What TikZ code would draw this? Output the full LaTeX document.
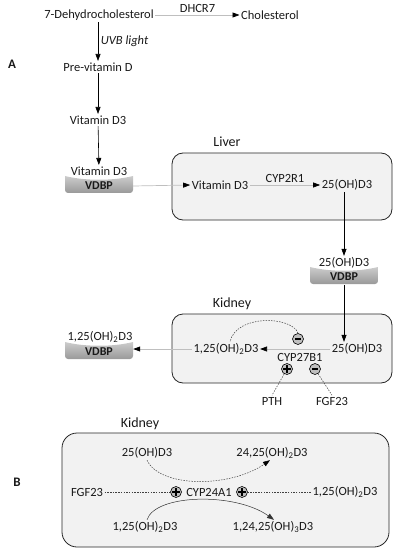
\documentclass[tikz,border=0pt]{standalone}
\usepackage{fontspec}
\setmainfont{Carlito}
\usetikzlibrary{arrows.meta}
\newcommand\vdbpshape[2]{%
  \shade[top color=gray!40, middle color=gray!60, bottom color=gray!80]
    ({#1-34},{#2-9}) .. controls ({#1-14},{#2-4}) and ({#1+14},{#2-4}) .. ({#1+34},{#2-9})
    [rounded corners=3pt] -- ({#1+34},{#2+8}) -- ({#1-34},{#2+8}) [sharp corners] -- cycle;}
\begin{document}
\begin{tikzpicture}[x=1pt,y=-1pt,
  every node/.style={font=\fontsize{12.5}{15}\selectfont, inner sep=1.5pt, text=black!90},
  blk/.style={draw=black, line width=0.6pt, -{Triangle[length=7pt,width=5pt]}},
  gry/.style={draw=gray!50, line width=0.7pt, -{Triangle[length=7pt,width=5pt,color=black]}},
  dsh/.style={draw=black!75, line width=0.5pt, dash pattern=on 1.5pt off 1.2pt},
  organ/.style={draw=black!85, line width=0.8pt, fill=black!5, rounded corners=11pt},
  organlabel/.style={font=\fontsize{14}{16}\selectfont},
  panel/.style={font=\bfseries\fontsize{13}{15}\selectfont},
  vdbptext/.style={font=\bfseries\fontsize{12}{14}\selectfont, minimum width=68pt, minimum height=16pt, inner sep=0pt},
  sgn/.style={circle, draw=black, line width=0.6pt, fill=gray!50, minimum size=11pt, inner sep=0pt},
  plusc/.style={sgn, path picture={
     \draw[line width=1.3pt] ([xshift=-4pt]path picture bounding box.center) -- ([xshift=4pt]path picture bounding box.center);
     \draw[line width=1.3pt] ([yshift=-4pt]path picture bounding box.center) -- ([yshift=4pt]path picture bounding box.center);}},
  minusc/.style={sgn, path picture={
     \draw[line width=1.3pt] ([xshift=-3pt]path picture bounding box.center) -- ([xshift=3pt]path picture bounding box.center);}}
]
\useasboundingbox (0,0) rectangle (403,553);

% ---------- Panel A top chain
\node[panel] (A) at (12,64) {A};
\node (dhc) at (99,15) {7-Dehydrocholesterol};
\node (chol) at (270,15) {Cholesterol};
\draw[gry] (dhc) -- (chol) node[midway, above, yshift=1pt] (dhcr) {DHCR7};
\node (prevd) at (98,67) {Pre-vitamin D};
\node (vd3) at (98,120) {Vitamin D3};
\draw[blk] (dhc.south -| prevd.north) -- (prevd.north) node[midway, right, xshift=1pt] (uvb) {\itshape UVB light};
\draw[blk] (prevd) -- (vd3);

% ---------- VDBP 1
\vdbpshape{99}{185}
\node (vd3b) at (99,171) {Vitamin D3};
\node[vdbptext] (vdbp1) at (99,186) {VDBP};
\draw[blk] (vd3) -- (vd3b);

% ---------- Liver
\node[organ, minimum width=220pt, minimum height=67pt] (liver) at (282,186.5) {};
\node[organlabel] (liverlbl) at (227,142) {Liver};
\node (lvd) at (220,185) {Vitamin D3};
\node (l25) at (347,185) {25(OH)D3};
\draw[gry] (vdbp1.east) -- (lvd.west);
\draw[gry] (lvd) -- (l25) node[midway, above, yshift=1pt] (cyp2r1) {CYP2R1};

% ---------- VDBP 2
\vdbpshape{344}{276}
\node (v2t) at (344,263) {25(OH)D3};
\node[vdbptext] (vdbp2) at (344,277) {VDBP};
\draw[blk] (l25.south -| v2t.north) -- (v2t.north);

% ---------- Kidney A
\node[organ, minimum width=220pt, minimum height=69pt] (kidA) at (282,348.5) {};
\node[organlabel] (kidAlbl) at (232,304) {Kidney};
\node (k25) at (357,349) {25(OH)D3};
\node (k125) at (226,349) {1,25(OH)\textsubscript{2}D3};
\node (cyp27) at (300,357) {CYP27B1};
\draw[blk] (vdbp2.south) -- (vdbp2.south |- k25.north);
\draw[gry] (k25.west) -- (k125.east);
\node[minusc] (m1) at (298,339) {};
\node[plusc] (p1) at (287,369) {};
\node[minusc] (m2) at (315,369) {};
\node (pth) at (272,401) {PTH};
\node (fgfA) at (332,401) {FGF23};
\draw[dsh] (p1) -- (pth.north);
\draw[dsh] (m2) -- (fgfA.north);
\coordinate (arcend) at ([xshift=4pt]k125.north);
\draw[dsh] (m1.north) .. controls (292,316) and (236,314) .. (arcend);

% ---------- VDBP 3
\vdbpshape{99}{351}
\node (v3t) at (100,337) {1,25(OH)\textsubscript{2}D3};
\node[vdbptext] (vdbp3) at (99,352) {VDBP};
\draw[gry] (k125.west) -- (k125.west -| vdbp3.east);

% ---------- Panel B
\node[panel] (B) at (17,482) {B};
\node[organ, rounded corners=15pt, minimum width=327pt, minimum height=114pt] (kidB) at (225.5,490) {};
\node[organlabel] (kidBlbl) at (140,424) {Kidney};
\node (b25) at (147,453) {25(OH)D3};
\node (b2425) at (272,453) {24,25(OH)\textsubscript{2}D3};
\node (fgfB) at (87,492) {FGF23};
\node[plusc] (pl1) at (176,492) {};
\node (cyp24) at (209,492) {CYP24A1};
\node[plusc] (pl2) at (242,492) {};
\node (b125r) at (345,492) {1,25(OH)\textsubscript{2}D3};
\node (b125) at (145,527) {1,25(OH)\textsubscript{2}D3};
\node (b12425) at (273,527) {1,24,25(OH)\textsubscript{3}D3};
\draw[dsh] (fgfB.east) -- (pl1.west);
\draw[dsh] (b125r.west) -- (pl2.east);
\coordinate (u1) at (b25.south);
\coordinate (u2) at ([xshift=-2pt]b2425.south);
\draw[dsh, -{Triangle[length=7pt,width=5pt,color=black]}] (u1) .. controls (160,488) and (230,488) .. (u2);
\coordinate (l1) at ([xshift=2pt]b125.north);
\coordinate (l2) at ([xshift=1pt]b12425.north);
\draw[blk, line width=0.5pt, draw=black!80] (l1) .. controls (155,494) and (235,492) .. (l2);
\end{tikzpicture}
\end{document}
